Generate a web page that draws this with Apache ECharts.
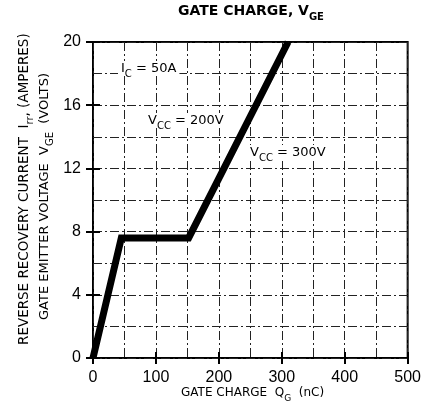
<!DOCTYPE html>
<html><head><meta charset="utf-8">
<script src="https://cdn.jsdelivr.net/npm/echarts@6/dist/echarts.min.js"></script>
<style>html,body{margin:0;padding:0;background:#fff}#c{width:424px;height:413px}</style>
</head><body><div id="c"></div>
<script>
const gateCharge = [0, 45, 152, 310];
const gateVoltage = [0, 7.6, 7.6, 20];
const xTicks = [0, 100, 200, 300, 400, 500];
const yTicks = [0, 4, 8, 12, 16, 20];

const chart = echarts.init(document.getElementById('c'));
const F = '"Liberation Sans", Arial, sans-serif';
const D = '"DejaVu Sans", sans-serif';
function txt(size, font) {
  return {
    a: {fontSize: size, fontFamily: font, fill: '#000'},
    s: {fontSize: Math.round(size * 0.75), fontFamily: font, fill: '#000', verticalAlign: 'bottom', padding: [0, 0, -Math.round(size * 0.3), 0]}
  };
}
const grid = {color: '#222', width: 1, type: [9, 3, 2, 3]};
chart.setOption({
  animation: false,
  backgroundColor: '#fff',
  grid: {left: 93, right: 12, top: 42, bottom: 55, show: true, borderColor: '#000', borderWidth: 2, backgroundColor: 'transparent'},
  xAxis: [{
    type: 'value', min: 0, max: 500, interval: 100, position: 'bottom',
    axisLine: {show: false},
    axisTick: {show: true, inside: true, length: 6, lineStyle: {color: '#000', width: 2}},
    axisLabel: {color: '#000', fontSize: 16, fontFamily: F, margin: 12},
    splitLine: {show: true, lineStyle: grid},
    minorTick: {show: false, splitNumber: 2},
    minorSplitLine: {show: true, lineStyle: grid}
  }, {
    type: 'value', min: 0, max: 500, interval: 100, position: 'top',
    axisLine: {show: false}, axisLabel: {show: false},
    axisTick: {show: true, inside: true, length: 6, lineStyle: {color: '#000', width: 2}},
    splitLine: {show: false}
  }],
  yAxis: [{
    type: 'value', min: 0, max: 20, interval: 4, position: 'left',
    axisLine: {show: false},
    axisTick: {show: true, inside: true, length: 7, lineStyle: {color: '#000', width: 2}},
    axisLabel: {color: '#000', fontSize: 16, fontFamily: F, margin: 12},
    splitLine: {show: true, lineStyle: grid},
    minorTick: {show: false, splitNumber: 2},
    minorSplitLine: {show: true, lineStyle: grid}
  }, {
    type: 'value', min: 0, max: 20, interval: 4, position: 'right',
    axisLine: {show: false}, axisLabel: {show: false},
    axisTick: {show: true, inside: true, length: 7, lineStyle: {color: '#000', width: 2}},
    splitLine: {show: false}
  }],
  series: [{
    type: 'line', xAxisIndex: 0, yAxisIndex: 0,
    data: gateCharge.map((q, i) => [q, gateVoltage[i]]),
    symbol: 'none', clip: true,
    lineStyle: {color: '#000', width: 7, join: 'miter'}
  }],
  graphic: [
    {type: 'text', x: 178, y: 4, style: {
      text: '{a|GATE CHARGE, V}{s|GE}', rich: {
        a: {fontSize: 14, fontWeight: 'bold', fontFamily: D, fill: '#000'},
        s: {fontSize: 10, fontWeight: 'bold', fontFamily: D, fill: '#000', verticalAlign: 'bottom', padding: [0,0,-4,0]}
      }}},
    {type: 'text', x: 118, y: 61, z: 10, style: {text: '{a|I}{s|C}{a| = 50A}', backgroundColor: '#fff', padding: [1, 3], rich: txt(13, D)}},
    {type: 'text', x: 145, y: 113, z: 10, style: {text: '{a|V}{s|CC}{a| = 200V}', backgroundColor: '#fff', padding: [1, 3], rich: txt(13, D)}},
    {type: 'text', x: 247, y: 145, z: 10, style: {text: '{a|V}{s|CC}{a| = 300V}', backgroundColor: '#fff', padding: [1, 3], rich: txt(13, D)}},
    {type: 'text', x: 181, y: 387, style: {text: '{a|GATE CHARGE  Q}{s|G}{a|  (nC)}', rich: txt(12, D)}},
    {type: 'text', x: 17, y: 345, rotation: Math.PI / 2, style: {text: '{a|REVERSE RECOVERY CURRENT  I}{s|rr}{a|, (AMPERES)}', rich: txt(13.5, D)}},
    {type: 'text', x: 38, y: 320, rotation: Math.PI / 2, style: {text: '{a|GATE EMITTER VOLTAGE  V}{s|GE}{a|  (VOLTS)}', rich: txt(13, D)}}
  ]
});
</script></body></html>
